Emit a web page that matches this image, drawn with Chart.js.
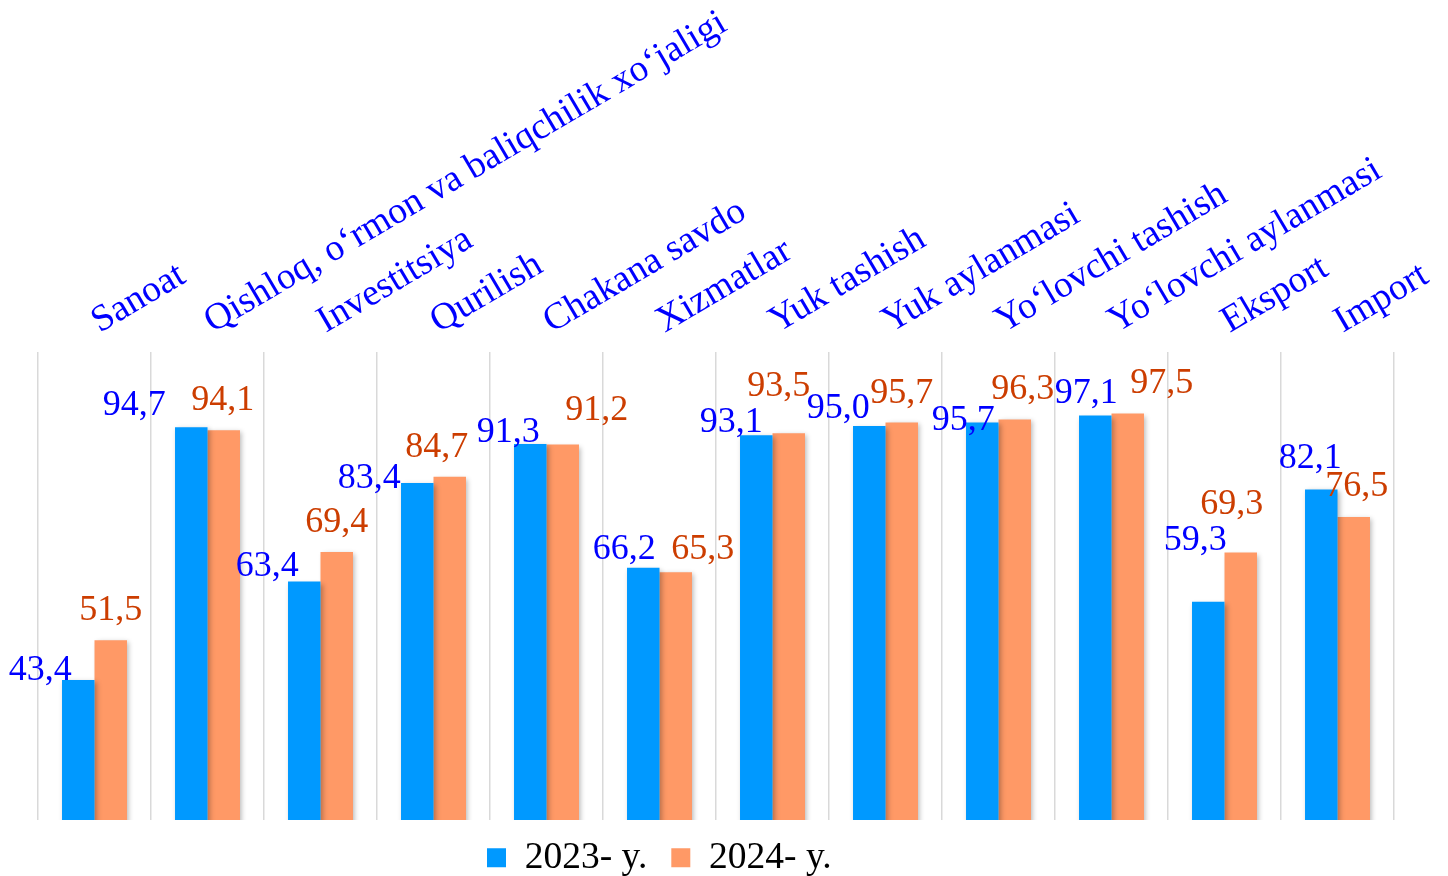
<!DOCTYPE html>
<html>
<head>
<meta charset="utf-8">
<script src="https://cdn.jsdelivr.net/npm/chart.js@4.4.1/dist/chart.umd.min.js"></script>
<style>
  html, body { margin: 0; padding: 0; background: #ffffff; }
  #wrap { width: 1448px; height: 876px; position: relative; }
</style>
</head>
<body>
<div id="wrap"><canvas id="c" width="1448" height="876"></canvas></div>
<script>
// ---- data ----
const categories = [
  "Sanoat",
  "Qishloq, o‘rmon va baliqchilik xo‘jaligi",
  "Investitsiya",
  "Qurilish",
  "Chakana savdo",
  "Xizmatlar",
  "Yuk tashish",
  "Yuk aylanmasi",
  "Yo‘lovchi tashish",
  "Yo‘lovchi aylanmasi",
  "Eksport",
  "Import"
];
const seriesNames = ["2023- y.", "2024- y."];
const values2023 = [43.4, 94.7, 63.4, 83.4, 91.3, 66.2, 93.1, 95.0, 95.7, 97.1, 59.3, 82.1];
const values2024 = [51.5, 94.1, 69.4, 84.7, 91.2, 65.3, 93.5, 95.7, 96.3, 97.5, 69.3, 76.5];

// label nudges (label centre relative to bar centre, baseline relative to bar top)
const nudge2023 = [[-38,0],[-57,-12],[-37,-6],[-48,5],[-22,-2],[-19,-9],[-25,-3],[-31,-8],[-19,8],[-9,-13],[-13,-52],[-11,-21]];
const nudge2024 = [[0,-20],[-1,-20],[0,-20],[-13,-20],[34,-25],[27,-13],[-10,-37],[0,-19],[8,-20],[34,-21],[-9,-39],[3,-21]];

const FONT = "'Liberation Serif', 'Times New Roman', serif";
const fmt = v => v.toFixed(1).replace('.', ',');

const shadowPlugin = {
  id: 'barShadow',
  beforeDatasetsDraw(chart) {
    const ctx = chart.ctx;
    ctx.save();
    ctx.shadowColor = 'rgba(0,0,0,0.28)';
    ctx.shadowBlur = 5;
    ctx.shadowOffsetX = 2;
    ctx.shadowOffsetY = 2;
  },
  afterDatasetsDraw(chart) {
    chart.ctx.restore();
  }
};

const labelPlugin = {
  id: 'valueLabels',
  afterDraw(chart) {
    const ctx = chart.ctx;
    ctx.save();
    ctx.font = "36px " + FONT;
    ctx.textAlign = 'center';
    ctx.textBaseline = 'alphabetic';
    const colors = ['#0000FF', '#CC3D00'];
    const nudges = [nudge2023, nudge2024];
    chart.data.datasets.forEach((ds, di) => {
      const meta = chart.getDatasetMeta(di);
      meta.data.forEach((bar, i) => {
        const n = nudges[di][i];
        ctx.fillStyle = colors[di];
        ctx.fillText(fmt(ds.data[i]), bar.x + n[0], bar.y + n[1]);
      });
    });
    ctx.restore();
  }
};

const legendPlace = {
  id: 'legendPlace',
  afterLayout(chart) {
    const lg = chart.legend;
    if (!lg) return;
    lg.top = 815;
    lg.left = 463;
  }
};

new Chart(document.getElementById('c'), {
  type: 'bar',
  data: {
    labels: categories,
    datasets: [
      { label: seriesNames[0], data: values2023, backgroundColor: '#0099FF', borderWidth: 0 },
      { label: seriesNames[1], data: values2024, backgroundColor: '#FF9966', borderWidth: 0 }
    ]
  },
  options: {
    responsive: false,
    animation: false,
    devicePixelRatio: 1,
    layout: { padding: { left: 38, right: 54, top: 0, bottom: 0 } },
    datasets: { bar: { barPercentage: 1.0, categoryPercentage: 0.575 } },
    scales: {
      x: {
        position: 'top',
        offset: true,
        border: { display: false },
        grid: { offset: true, color: '#D9D9D9', lineWidth: 1.5, drawTicks: false },
        ticks: {
          autoSkip: false,
          minRotation: 30.5,
          maxRotation: 30.5,
          padding: 8,
          labelOffset: 23,
          color: '#0000FF',
          font: { family: FONT, size: 37.5 }
        },
        afterFit(scale) {
          scale.height = 352;
          scale.paddingLeft = 0;
          scale.paddingRight = 0;
        }
      },
      y: {
        display: false,
        min: 15,
        max: 110
      }
    },
    plugins: {
      legend: {
        position: 'bottom',
        align: 'start',
        maxHeight: 56,
        labels: {
          boxWidth: 19,
          boxHeight: 19,
          padding: 24,
          color: '#000000',
          font: { family: FONT, size: 37.5 }
        }
      },
      tooltip: { enabled: false }
    }
  },
  plugins: [shadowPlugin, labelPlugin, legendPlace]
});
</script>
</body>
</html>
